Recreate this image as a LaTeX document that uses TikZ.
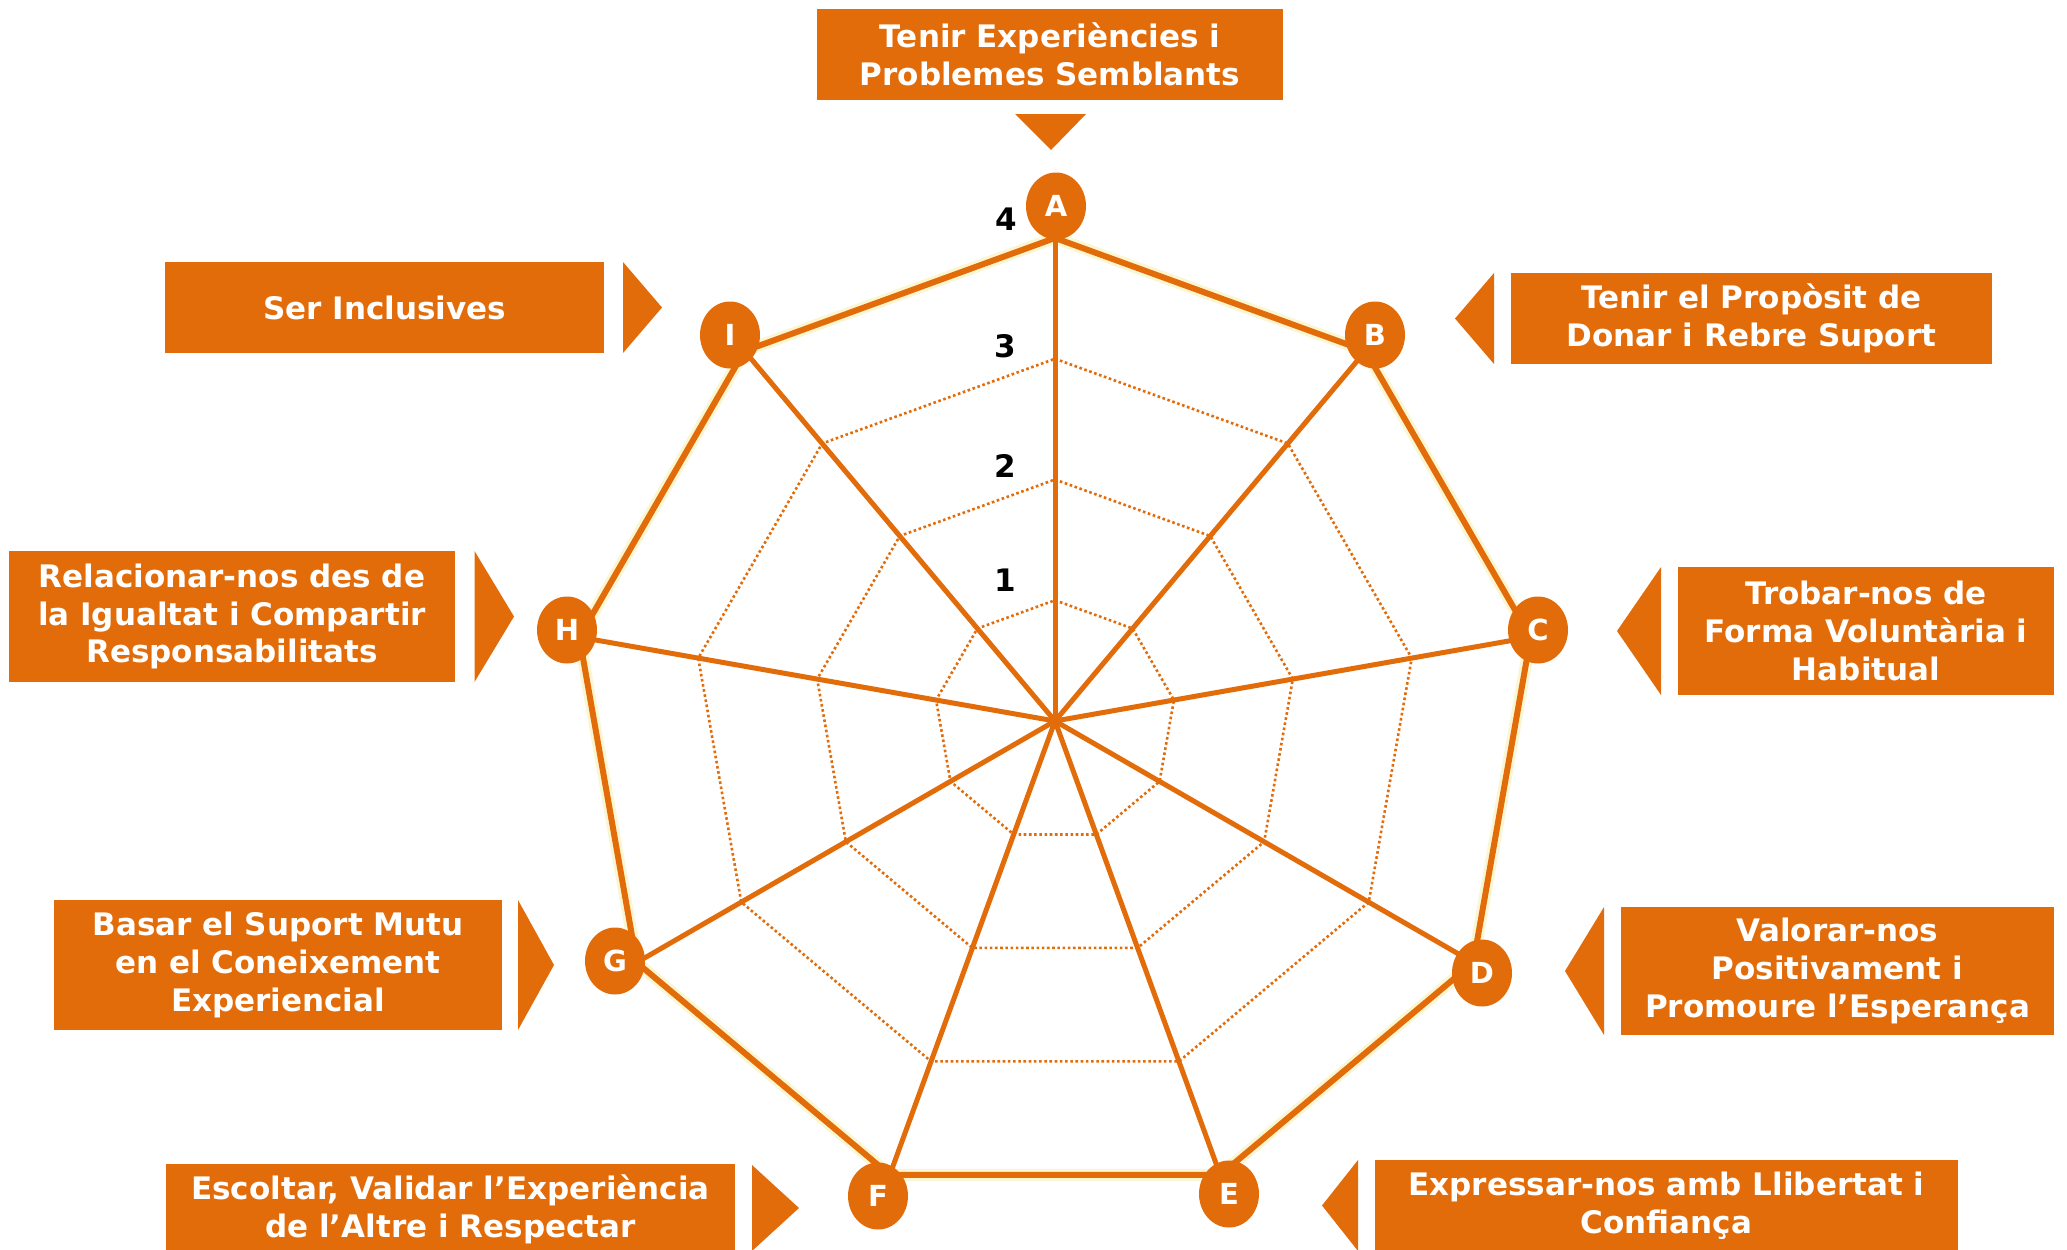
\documentclass[tikz,border=0pt]{standalone}
\usepackage{fontspec}
\setmainfont{DejaVu Sans}
\usetikzlibrary{shapes.geometric}
\definecolor{org}{HTML}{E36C0A}
\definecolor{glow}{HTML}{F8F3C0}
\begin{document}
\begin{tikzpicture}[x=1pt,y=-1pt,
  box/.style={fill=org, text=white, font=\bfseries\fontsize{31}{37.6}\selectfont, align=center, inner sep=0pt},
  badge/.style={ellipse, fill=org, text=white, font=\bfseries\fontsize{29}{32}\selectfont, minimum width=60pt, minimum height=67pt, inner sep=0pt},
  num/.style={text=black, font=\bfseries\fontsize{31}{34}\selectfont, inner sep=0pt},
  ring/.style={draw=org, line width=2.6pt, dash pattern=on 2.6pt off 2.6pt},
  spoke/.style={draw=org, line width=5pt},
  poly/.style={draw=org, line width=6pt, line join=round},
  glowline/.style={draw=glow, line width=12pt, line join=round, opacity=0.7},
  tri/.style={fill=org}]
\useasboundingbox (0,0) rectangle (2067,1250);
\fill[white] (0,0) rectangle (2067,1250);

% centre and vertices
\coordinate (O) at (1055,721);
\foreach \n/\a in {A/90,B/50,C/10,D/-30,E/-70,F/-110,G/-150,H/170,I/130}
  \coordinate (v\n) at ({1055+483*cos(\a)},{721-483*sin(\a)});

% glow
\draw[glowline, shift={(0,8)}] (vA) -- (vB) -- (vC) -- (vD) -- (vE) -- (vF) -- (vG) -- (vH) -- (vI) -- cycle;

% dotted rings
\foreach \r in {120.75,241.5,362.25}
  \draw[ring] ({1055+\r*cos(90)},{721-\r*sin(90)})
    \foreach \a in {50,10,-30,-70,-110,-150,170,130} {-- ({1055+\r*cos(\a)},{721-\r*sin(\a)})} -- cycle;

% spokes
\foreach \n in {A,B,C,D,E,F,G,H,I}
  \draw[spoke] (O) -- (v\n);

% outer polygon
\draw[poly] (vA) -- (vB) -- (vC) -- (vD) -- (vE) -- (vF) -- (vG) -- (vH) -- (vI) -- cycle;

% badges
\node[badge] (A) at (1056,206) {A};
\node[badge] (B) at (1375,335) {B};
\node[badge] (C) at (1538,630) {C};
\node[badge] (D) at (1482,973) {D};
\node[badge] (E) at (1229,1194) {E};
\node[badge] (F) at (878,1196) {F};
\node[badge] (G) at (615,961) {G};
\node[badge] (H) at (567,630) {H};
\node[badge] (I) at (730,335) {I};

% scale numbers
\node[num] (n4) at (1006,219) {4};
\node[num] (n3) at (1005,346) {3};
\node[num] (n2) at (1005,466) {2};
\node[num] (n1) at (1005,580) {1};

% label boxes
\node[box, minimum width=466pt, minimum height=91pt] (bA) at (1050,54.5) {Tenir Experiències i\\Problemes Semblants};
\node[box, minimum width=439pt, minimum height=91pt] (bI) at (384.5,307.5) {Ser Inclusives};
\node[box, minimum width=446pt, minimum height=131pt] (bH) at (232,616.5) {Relacionar-nos des de\\la Igualtat i Compartir\\Responsabilitats};
\node[box, minimum width=448pt, minimum height=130pt] (bG) at (278,965) {Basar el Suport Mutu\\en el Coneixement\\Experiencial};
\node[box, minimum width=569pt, minimum height=91pt] (bF) at (450.5,1209.5) {Escoltar, Validar l’Experiència\\de l’Altre i Respectar};
\node[box, minimum width=481pt, minimum height=91pt] (bB) at (1751.5,318.5) {Tenir el Propòsit de\\Donar i Rebre Suport};
\node[box, minimum width=376pt, minimum height=128pt] (bC) at (1866,631) {Trobar-nos de\\Forma Voluntària i\\Habitual};
\node[box, minimum width=433pt, minimum height=128pt] (bD) at (1837.5,971) {Valorar-nos\\Positivament i\\Promoure l’Esperança};
\node[box, minimum width=583pt, minimum height=91pt] (bE) at (1666.5,1205.5) {Expressar-nos amb Llibertat i\\Confiança};

% pointer triangles
\fill[tri] (1015,114) -- (1086,114) -- (1051,150) -- cycle;
\fill[tri] (623,262) -- (623,353) -- (662,307.5) -- cycle;
\fill[tri] (474.5,551) -- (474.5,682) -- (514,616.5) -- cycle;
\fill[tri] (518,900) -- (518,1030) -- (554,965) -- cycle;
\fill[tri] (752,1165) -- (752,1251) -- (799,1208) -- cycle;
\fill[tri] (1494,273) -- (1494,364) -- (1455,318.5) -- cycle;
\fill[tri] (1661,567) -- (1661,695) -- (1617,631) -- cycle;
\fill[tri] (1604,907) -- (1604,1035) -- (1565,971) -- cycle;
\fill[tri] (1358,1160) -- (1358,1251) -- (1322,1205.5) -- cycle;
\end{tikzpicture}
\end{document}
